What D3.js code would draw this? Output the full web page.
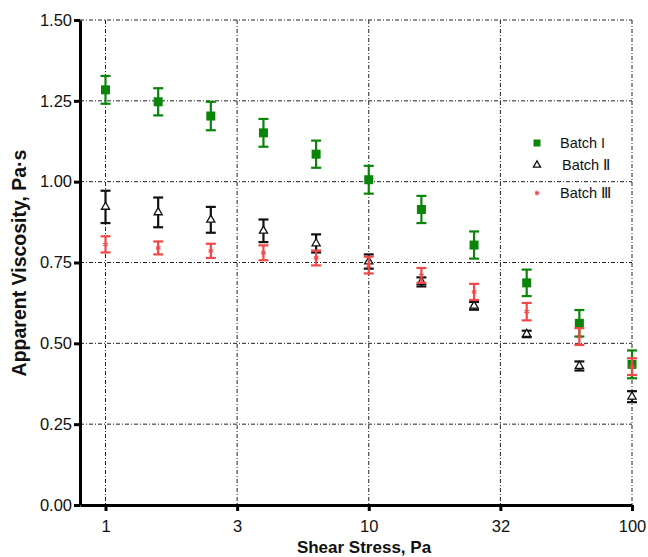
<!DOCTYPE html>
<html>
<head>
<meta charset="utf-8">
<title>Apparent Viscosity vs Shear Stress</title>
<style>
    body { margin: 0; background: #fff; }
    svg text { font-family: "Liberation Sans", Arial, sans-serif; }
    .grid line { stroke: #222; stroke-width: 1; stroke-dasharray: 4,2,1,2; }
    .axis path, .axis line { stroke: #000; stroke-width: 3; }
    .axis text { font-size: 16.5px; fill: #111; }
    .title { font-weight: bold; fill: #111; }
</style>
</head>
<body>
<div id="chart"></div>
<script src="https://d3js.org/d3.v7.min.js"></script>
<script>
// shear stress values (Pa), 0.2 decade steps
const stress = [1, 1.585, 2.512, 3.981, 6.310, 10, 15.85, 25.12, 39.81, 63.10, 100];

// Batch I
const batch1 = [1.284, 1.247, 1.203, 1.151, 1.085, 1.006, 0.914, 0.804, 0.687, 0.562, 0.435];
const batch1Err = [0.043, 0.042, 0.044, 0.043, 0.042, 0.043, 0.042, 0.042, 0.041, 0.041, 0.043];
// Batch II
const batch2 = [0.922, 0.905, 0.882, 0.848, 0.809, 0.753, 0.690, 0.616, 0.529, 0.430, 0.335];
const batch2Err = [0.050, 0.046, 0.040, 0.035, 0.028, 0.022, 0.014, 0.012, 0.010, 0.014, 0.017];
// Batch III
const batch3 = [0.806, 0.795, 0.786, 0.780, 0.764, 0.742, 0.710, 0.659, 0.598, 0.521, 0.428];
const batch3Err = [0.025, 0.020, 0.022, 0.023, 0.023, 0.026, 0.023, 0.025, 0.027, 0.026, 0.026];

const seriesNames = ["Batch I", "Batch Ⅱ", "Batch Ⅲ"];
const xTicks = [1, 3.1623, 10, 31.623, 100];
const xTickLabels = ["1", "3", "10", "32", "100"];
const yTicks = [0, 0.25, 0.5, 0.75, 1.0, 1.25, 1.5];

const width = 648, height = 557;
const svg = d3.select("#chart").append("svg")
    .attr("width", width)
    .attr("height", height);

const x = d3.scaleLog().domain([0.8, 100]).range([80, 632]);
const y = d3.scaleLinear().domain([0, 1.5]).range([505, 20]);

// grid
const grid = svg.append("g").attr("class", "grid");
grid.selectAll(".h").data(yTicks.slice(1)).enter().append("line")
    .attr("x1", x(0.8)).attr("x2", x(100))
    .attr("y1", d => y(d)).attr("y2", d => y(d));
grid.selectAll(".v").data(xTicks).enter().append("line")
    .attr("x1", d => x(d)).attr("x2", d => x(d))
    .attr("y1", y(1.5)).attr("y2", y(0));

// series data
const series = [
    { name: seriesNames[0], vals: batch1, err: batch1Err, color: "#0a850a", sym: "square" },
    { name: seriesNames[1], vals: batch2, err: batch2Err, color: "#111", sym: "triangle" },
    { name: seriesNames[2], vals: batch3, err: batch3Err, color: "#f04848", sym: "star" }
];

function drawSymbol(g, sym, color, size) {
    if (sym === "square") {
        g.append("rect")
            .attr("x", -size / 2).attr("y", -size / 2)
            .attr("width", size).attr("height", size)
            .attr("fill", color);
    } else if (sym === "triangle") {
        g.append("path")
            .attr("d", d3.symbol().type(d3.symbolTriangle).size(size * size * 0.45)())
            .attr("fill", "#fff").attr("stroke", color).attr("stroke-width", 1.3);
    } else {
        g.append("path")
            .attr("d", d3.symbol().type(d3.symbolAsterisk || d3.symbolCross).size(size * 4)())
            .attr("fill", "none").attr("stroke", color).attr("stroke-width", 1.2);
    }
}

series.forEach(s => {
    const g = svg.append("g");
    const pts = g.selectAll("g.pt").data(stress.map((st, i) => ({ st, v: s.vals[i], e: s.err[i] })))
        .enter().append("g").attr("class", "pt")
        .attr("transform", d => `translate(${x(d.st)},0)`);
    pts.append("line")
        .attr("x1", 0).attr("x2", 0)
        .attr("y1", d => y(d.v + d.e)).attr("y2", d => y(d.v - d.e))
        .attr("stroke", s.color).attr("stroke-width", 2.2);
    pts.append("line")
        .attr("x1", -5).attr("x2", 5)
        .attr("y1", d => y(d.v + d.e)).attr("y2", d => y(d.v + d.e))
        .attr("stroke", s.color).attr("stroke-width", 2.2);
    pts.append("line")
        .attr("x1", -5).attr("x2", 5)
        .attr("y1", d => y(d.v - d.e)).attr("y2", d => y(d.v - d.e))
        .attr("stroke", s.color).attr("stroke-width", 2.2);
    pts.each(function (d) {
        const m = d3.select(this).append("g").attr("transform", `translate(0,${y(d.v)})`);
        drawSymbol(m, s.sym, s.color, s.sym === "star" ? 5 : (s.sym === "square" ? 9 : 8));
    });
});

// axes
const xAxis = d3.axisBottom(x).tickValues(xTicks)
    .tickFormat((d, i) => xTickLabels[i]).tickSize(6).tickSizeOuter(0);
const gx = svg.append("g").attr("class", "axis")
    .attr("transform", `translate(0,${y(0)})`).call(xAxis);
gx.selectAll("text").attr("dy", "1.1em");

const yAxis = d3.axisLeft(y).tickValues(yTicks)
    .tickFormat(d3.format(".2f")).tickSize(6).tickSizeOuter(0);
const gy = svg.append("g").attr("class", "axis")
    .attr("transform", `translate(${x(0.8)},0)`).call(yAxis);
gy.selectAll("text").attr("x", -8);

// axis titles
svg.append("text").attr("class", "title")
    .attr("x", 364).attr("y", 553).attr("text-anchor", "middle")
    .attr("font-size", 17)
    .text("Shear Stress, Pa");
svg.append("text").attr("class", "title")
    .attr("transform", "translate(26,263) rotate(-90)")
    .attr("text-anchor", "middle")
    .attr("font-size", 19.5)
    .text("Apparent Viscosity, Pa·s");

// legend
const legend = svg.append("g").attr("transform", "translate(537,0)");
const legendY = [143, 165, 193];
series.forEach((s, i) => {
    const lg = legend.append("g").attr("transform", `translate(0,${legendY[i]})`);
    drawSymbol(lg, s.sym, s.color, s.sym === "star" ? 4 : (s.sym === "square" ? 7 : 7));
    lg.append("text").attr("x", 23 + (i === 1 ? 2 : 0)).attr("y", 5)
        .attr("font-size", 14.5).attr("fill", "#111").text(s.name);
});
</script>
</body>
</html>
